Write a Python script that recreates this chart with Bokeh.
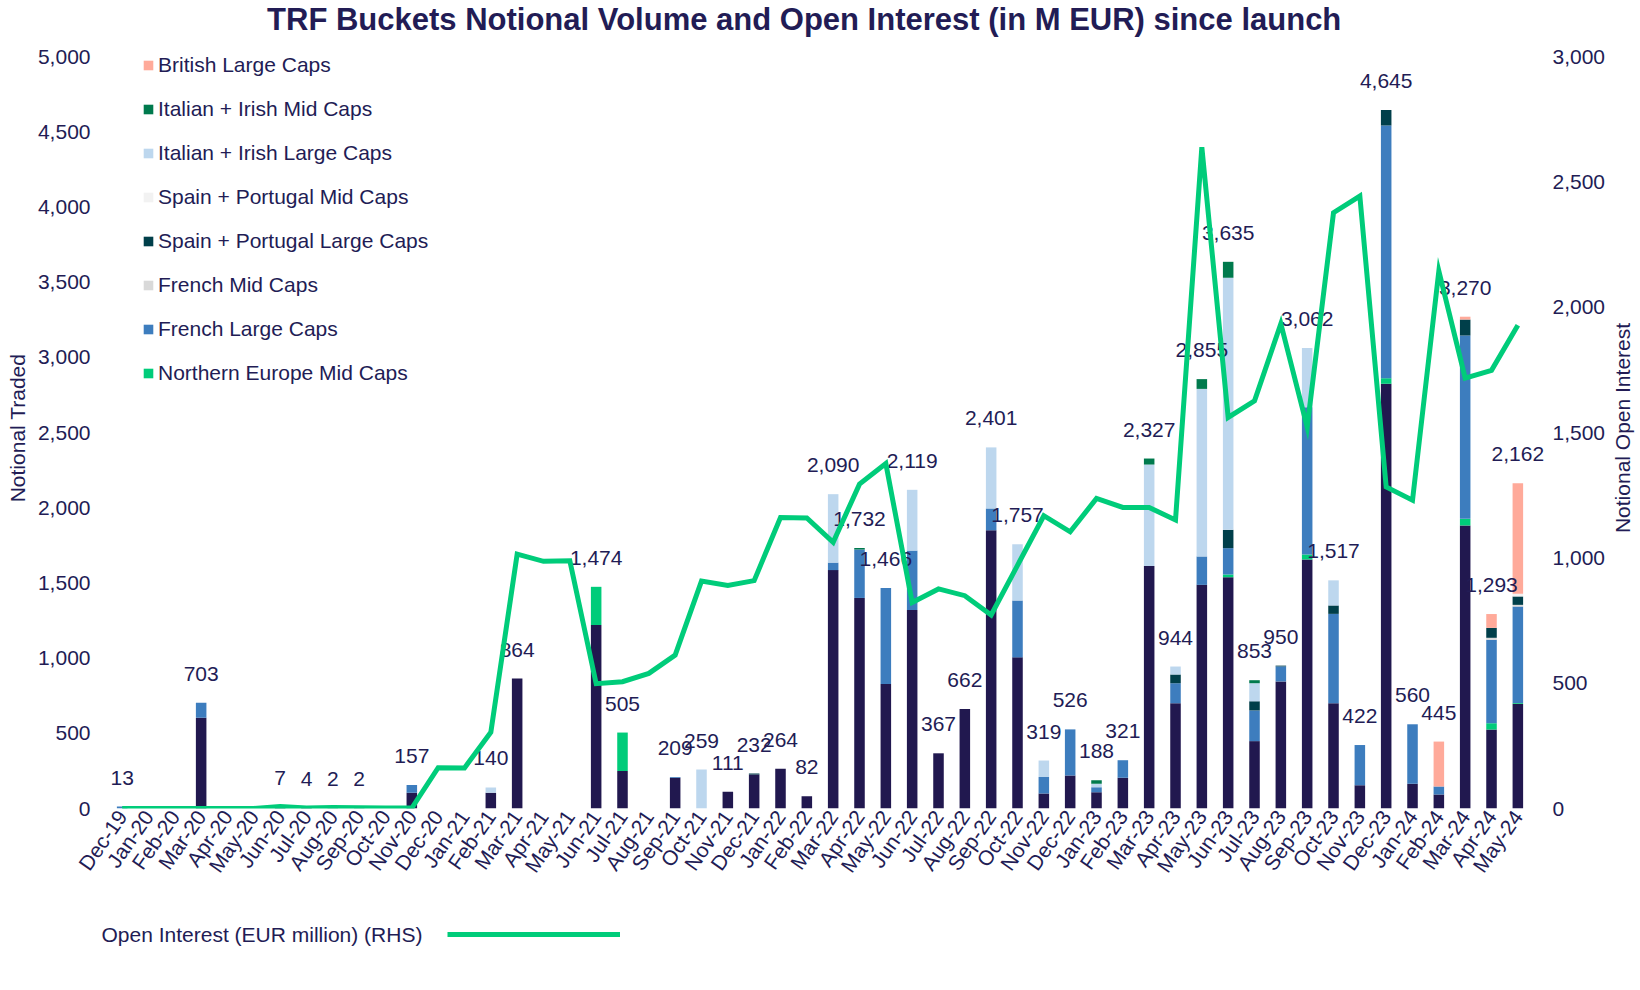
import math
from bokeh.plotting import figure
from bokeh.layouts import column, row
from bokeh.models import (ColumnDataSource, FactorRange, Range1d, LinearAxis, FixedTicker,
                          NumeralTickFormatter, Legend, LegendItem, Label)
from bokeh.core.properties import value
from bokeh.embed import file_html
from bokeh.resources import INLINE

months = ["Dec-19", "Jan-20", "Feb-20", "Mar-20", "Apr-20", "May-20", "Jun-20", "Jul-20", "Aug-20", "Sep-20", "Oct-20", "Nov-20",
          "Dec-20", "Jan-21", "Feb-21", "Mar-21", "Apr-21", "May-21", "Jun-21", "Jul-21", "Aug-21", "Sep-21", "Oct-21", "Nov-21",
          "Dec-21", "Jan-22", "Feb-22", "Mar-22", "Apr-22", "May-22", "Jun-22", "Jul-22", "Aug-22", "Sep-22", "Oct-22", "Nov-22",
          "Dec-22", "Jan-23", "Feb-23", "Mar-23", "Apr-23", "May-23", "Jun-23", "Jul-23", "Aug-23", "Sep-23", "Oct-23", "Nov-23",
          "Dec-23", "Jan-24", "Feb-24", "Mar-24", "Apr-24", "May-24"]

northern_europe_large = [0, 0, 0, 603, 0, 0, 7, 4, 2, 2, 0, 105,
                         0, 0, 105, 864, 0, 0, 1220, 250, 0, 204, 0, 111,
                         226, 264, 82, 1585, 1400, 828, 1320, 367, 662, 1850, 1005, 100,
                         220, 108, 205, 1612, 700, 1487, 1538, 448, 845, 1656, 700, 155,
                         2824, 165, 93, 1882, 525, 696]
northern_europe_mid = [0, 0, 0, 0, 0, 0, 0, 0, 0, 0, 0, 0,
                       0, 0, 0, 0, 0, 0, 254, 255, 0, 0, 0, 0,
                       0, 0, 0, 0, 0, 0, 0, 0, 0, 0, 0, 0,
                       0, 0, 0, 0, 0, 0, 18, 0, 0, 33, 0, 0,
                       37, 0, 0, 44, 42, 5]
french_large = [13, 0, 0, 100, 0, 0, 0, 0, 0, 0, 0, 52,
                0, 0, 0, 0, 0, 0, 0, 0, 0, 5, 0, 0,
                0, 0, 0, 50, 322, 638, 395, 0, 0, 145, 378, 110,
                306, 34, 116, 0, 133, 189, 175, 204, 100, 979, 594, 267,
                1680, 395, 53, 1219, 555, 642]
french_mid = [0, 0, 0, 0, 0, 0, 0, 0, 0, 0, 0, 0,
              0, 0, 0, 0, 0, 0, 0, 0, 0, 0, 0, 0,
              0, 0, 0, 0, 0, 0, 0, 0, 0, 0, 0, 0,
              0, 0, 0, 0, 0, 0, 0, 0, 0, 0, 0, 0,
              0, 0, 0, 0, 13, 11]
spain_portugal_large = [0, 0, 0, 0, 0, 0, 0, 0, 0, 0, 0, 0,
                        0, 0, 0, 0, 0, 0, 0, 0, 0, 0, 0, 0,
                        6, 0, 0, 0, 0, 0, 0, 0, 0, 0, 0, 0,
                        0, 0, 0, 0, 58, 0, 122, 61, 5, 0, 56, 0,
                        104, 0, 0, 106, 66, 56]
spain_portugal_mid = [0, 0, 0, 0, 0, 0, 0, 0, 0, 0, 0, 0,
                      0, 0, 0, 0, 0, 0, 0, 0, 0, 0, 0, 0,
                      0, 0, 0, 0, 0, 0, 0, 0, 0, 0, 0, 0,
                      0, 0, 0, 0, 0, 0, 0, 0, 0, 0, 0, 0,
                      0, 0, 0, 0, 0, 18]
italian_irish_large = [0, 0, 0, 0, 0, 0, 0, 0, 0, 0, 0, 0,
                       0, 0, 35, 0, 0, 0, 0, 0, 0, 0, 259, 0,
                       0, 0, 0, 455, 0, 0, 404, 0, 0, 406, 374, 109,
                       0, 22, 0, 675, 53, 1114, 1676, 120, 0, 394, 167, 0,
                       0, 0, 0, 0, 0, 0]
italian_irish_mid = [0, 0, 0, 0, 0, 0, 0, 0, 0, 0, 0, 0,
                     0, 0, 0, 0, 0, 0, 0, 0, 0, 0, 0, 0,
                     0, 0, 0, 0, 10, 0, 0, 0, 0, 0, 0, 0,
                     0, 24, 0, 40, 0, 65, 106, 20, 0, 0, 0, 0,
                     0, 0, 0, 0, 0, 0]
british_large = [0, 0, 0, 0, 0, 0, 0, 0, 0, 0, 0, 0,
                 0, 0, 0, 0, 0, 0, 0, 0, 0, 0, 0, 0,
                 0, 0, 0, 0, 0, 0, 0, 0, 0, 0, 0, 0,
                 0, 0, 0, 0, 0, 0, 0, 0, 0, 0, 0, 0,
                 0, 0, 299, 19, 92, 734]

open_interest = [0, 0, 0, 0, 0, 0, 8, 2, 4, 3, 2, 2,
                 163, 162, 304, 1015, 986, 988, 498, 506, 539, 612, 907, 890,
                 909, 1161, 1159, 1062, 1294, 1376, 822, 876, 849, 772, 970, 1168,
                 1104, 1237, 1201, 1201, 1151, 2638, 1560, 1626, 1934, 1522, 2377, 2443,
                 1283, 1230, 2144, 1717, 1748, 1928]

series_keys = ["ne_large", "ne_mid", "fr_large", "fr_mid", "sp_large", "sp_mid", "it_large", "it_mid", "br_large"]
series_names = ["Northern Europe Large Caps", "Northern Europe Mid Caps", "French Large Caps", "French Mid Caps",
                "Spain + Portugal Large Caps", "Spain + Portugal Mid Caps", "Italian + Irish Large Caps",
                "Italian + Irish Mid Caps", "British Large Caps"]
series_values = [northern_europe_large, northern_europe_mid, french_large, french_mid, spain_portugal_large,
                 spain_portugal_mid, italian_irish_large, italian_irish_mid, british_large]
series_colors = ["#21184F", "#00CC7A", "#3D7DBE", "#D9D9D9", "#003F4A", "#F2F2F2", "#BDD7EE", "#007A4D", "#FFAA9A"]

left_ticks = [0, 500, 1000, 1500, 2000, 2500, 3000, 3500, 4000, 4500, 5000]
right_ticks = [0, 500, 1000, 1500, 2000, 2500, 3000]

TITLE = "TRF Buckets  Notional Volume and Open Interest (in M EUR) since launch"
TXT = "#221C55"
GREEN = "#00CC7A"
FONT = "Liberation Sans"
FS = "21px"
W = 1636
BL = 94
PW, RW = 1608, 28          # main figure width, right title strip width
TOP, BOT, PH = 7, 92, 860  # main figure borders / height

data = {"month": months}
for k, v in zip(series_keys, series_values):
    data[k] = v
src = ColumnDataSource(data)

totals = [sum(vals) for vals in zip(*series_values)]
lab_src = ColumnDataSource(dict(
    month=[m for m, t in zip(months, totals) if t > 0],
    total=[t for t in totals if t > 0],
    text=[f"{t:,}" for t in totals if t > 0],
))

# ---- title strip
p0 = figure(width=W, height=40, x_range=Range1d(0, 1), y_range=Range1d(0, 1),
            output_backend="svg", toolbar_location=None, min_border=0, min_border_left=BL,
            x_axis_type=None, y_axis_type=None, title=None)
p0.outline_line_color = None
p0.add_layout(Label(x=714, y=21, x_units="screen", y_units="screen", text=TITLE,
                    text_align="center", text_baseline="middle", text_font=FONT,
                    text_font_size="31px", text_font_style="bold", text_color=TXT))

# ---- main chart (top of range slightly above 5,000 so the legend is not clipped)
xr = FactorRange(factors=months, range_padding=0.55, range_padding_units="absolute", factor_padding=0)
p = figure(x_range=xr, y_range=Range1d(0, 5060), width=PW, height=PH, title=None,
           output_backend="svg", toolbar_location=None,
           min_border_left=BL, min_border_right=60, min_border_top=TOP, min_border_bottom=BOT)
p.outline_line_color = None
p.xgrid.grid_line_color = None
p.ygrid.grid_line_color = None

p.extra_y_ranges = {"oi": Range1d(0, 3036)}

bars = p.vbar_stack(series_keys, x="month", width=0.4, source=src, color=series_colors, line_color=None)

p.text(x="month", y="total", text="text", source=lab_src, text_align="center", text_baseline="middle",
       y_offset=-29, text_font=value(FONT), text_font_size=FS, text_color=TXT)

oi_line = p.line(x=months, y=open_interest, y_range_name="oi", line_color=GREEN, line_width=5,
                 line_join="miter")

lax = p.yaxis[0]
lax.ticker = FixedTicker(ticks=left_ticks)
lax.formatter = NumeralTickFormatter(format="0,0")
lax.axis_label = "Notional Traded"
lax.axis_label_standoff = 6
lax.major_label_standoff = 4

rax = LinearAxis(y_range_name="oi", ticker=FixedTicker(ticks=right_ticks),
                 formatter=NumeralTickFormatter(format="0,0"))
rax.major_label_standoff = 7
p.add_layout(rax, "right")

xax = p.xaxis[0]
xax.major_label_orientation = 0.96
xax.major_label_standoff = 4

for ax in [lax, rax, xax]:
    ax.axis_line_color = None
    ax.major_tick_line_color = None
    ax.minor_tick_line_color = None
    ax.major_tick_out = 0
    ax.major_label_text_font = FONT
    ax.major_label_text_font_size = FS
    ax.major_label_text_color = TXT
    ax.axis_label_text_font = FONT
    ax.axis_label_text_font_size = FS
    ax.axis_label_text_color = TXT
    ax.axis_label_text_font_style = "normal"

items = []
for r, name in reversed(list(zip(bars[1:], series_names[1:]))):
    items.append(LegendItem(label=name, renderers=[r]))
leg = Legend(items=items, location=(48, 423), padding=0, margin=0, spacing=20,
             glyph_width=12, glyph_height=12, label_standoff=4, label_height=24,
             label_text_font=FONT, label_text_font_size=FS, label_text_color=TXT,
             border_line_color=None, background_fill_alpha=0)
p.add_layout(leg)

# ---- right strip holding the right axis title (reads bottom to top, centred on the plot area)
pr = figure(width=RW, height=PH, x_range=Range1d(0, 1), y_range=Range1d(0, 1),
            output_backend="svg", toolbar_location=None, min_border=0,
            min_border_top=TOP, min_border_bottom=BOT,
            x_axis_type=None, y_axis_type=None, title=None)
pr.outline_line_color = None
pr.add_layout(Label(x=RW / 2, y=(PH - TOP - BOT) / 2, x_units="screen", y_units="screen",
                    angle=math.pi / 2, text="Notional Open Interest", text_align="center",
                    text_baseline="middle", text_font=FONT, text_font_size=FS, text_color=TXT))

# ---- bottom strip: series name followed by the line key
p2 = figure(width=W, height=64, x_range=Range1d(0, 1), y_range=Range1d(-2, -1),
            output_backend="svg", toolbar_location=None, min_border=0, min_border_left=BL,
            x_axis_type=None, y_axis_type=None, title=None)
p2.outline_line_color = None
key_line = p2.line(x=list(range(len(open_interest))), y=open_interest, line_color=GREEN, line_width=5)
p2.add_layout(Label(x=7, y=30, x_units="screen", y_units="screen",
                    text="Open Interest (EUR million) (RHS)", text_align="left", text_baseline="middle",
                    text_font=FONT, text_font_size=FS, text_color=TXT))
leg2 = Legend(items=[LegendItem(label=" ", renderers=[key_line])], location=(353, 18), padding=0, margin=0,
              glyph_width=173, glyph_height=24, label_standoff=0, label_height=24,
              label_text_font=FONT, label_text_font_size=FS,
              border_line_color=None, background_fill_alpha=0)
p2.add_layout(leg2)

layout = column(p0, row(p, pr, spacing=0), p2, spacing=0)
open("out.html", "w").write(file_html(layout, INLINE))
